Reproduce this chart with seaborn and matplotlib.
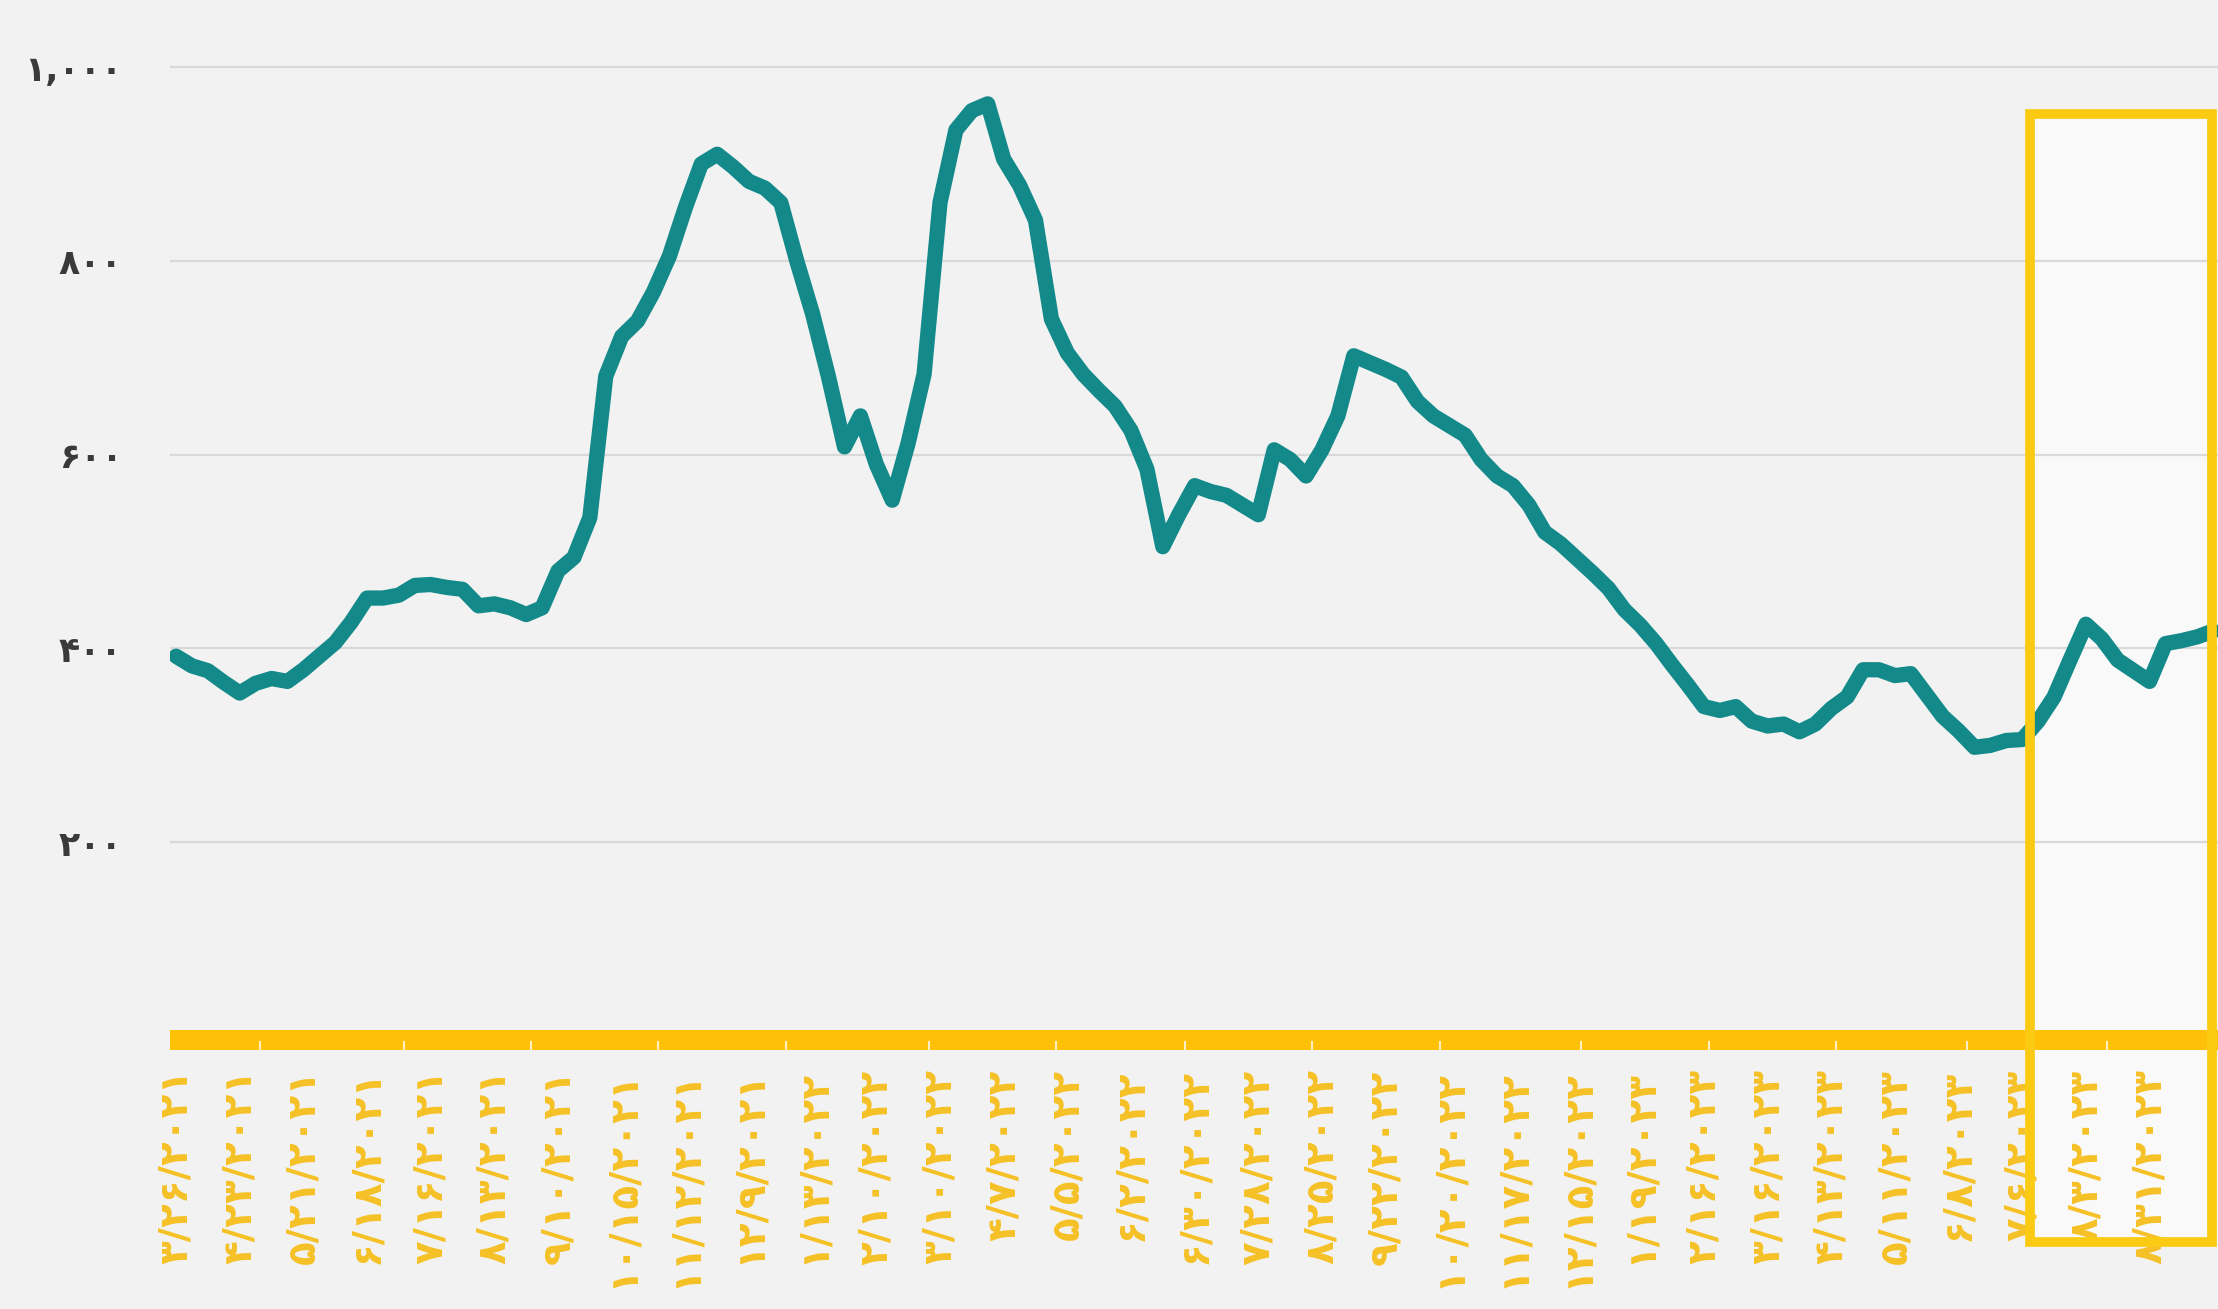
import matplotlib
matplotlib.use("Agg")
import matplotlib.pyplot as plt
import seaborn as sns
import numpy as np
import pandas as pd
from matplotlib.patches import Rectangle

# ---------------- data ----------------
values = [
    392, 382, 377, 365, 354, 364, 369, 366, 378, 392,
    406, 427, 452, 452, 455, 465, 466, 463, 461, 444,
    446, 442, 435, 442, 480, 494, 535, 681, 722, 738,
    768, 805, 855, 900, 910, 897, 882, 875, 860, 800,
    745, 680, 608, 640, 590, 553, 612, 683, 860, 935,
    955, 962, 905, 878, 842, 740, 705, 683, 666, 650,
    625, 585, 505, 538, 568, 562, 558, 548, 538, 605,
    595, 578, 605, 640, 702, 695, 688, 680, 655, 640,
    630, 620, 595, 578, 568, 548, 520, 508, 493, 478,
    462, 440, 424, 405, 383, 362, 340, 336, 340, 325,
    320, 322, 314, 322, 338, 350, 378, 378, 372, 374,
    352, 330, 315, 298, 300, 305, 306, 325, 350, 388,
    425, 410, 388, 377, 366, 405, 408, 412, 418,
]

x_labels = [
    "۳/۲۶/۲۰۲۱", "۴/۲۳/۲۰۲۱", "۵/۲۱/۲۰۲۱", "۶/۱۸/۲۰۲۱", "۷/۱۶/۲۰۲۱",
    "۸/۱۳/۲۰۲۱", "۹/۱۰/۲۰۲۱", "۱۰/۱۵/۲۰۲۱", "۱۱/۱۲/۲۰۲۱", "۱۲/۹/۲۰۲۱",
    "۱/۱۳/۲۰۲۲", "۲/۱۰/۲۰۲۲", "۳/۱۰/۲۰۲۲", "۴/۷/۲۰۲۲", "۵/۵/۲۰۲۲",
    "۶/۲/۲۰۲۲", "۶/۳۰/۲۰۲۲", "۷/۲۸/۲۰۲۲", "۸/۲۵/۲۰۲۲", "۹/۲۲/۲۰۲۲",
    "۱۰/۲۰/۲۰۲۲", "۱۱/۱۷/۲۰۲۲", "۱۲/۱۵/۲۰۲۲", "۱/۱۹/۲۰۲۳", "۲/۱۶/۲۰۲۳",
    "۳/۱۶/۲۰۲۳", "۴/۱۳/۲۰۲۳", "۵/۱۱/۲۰۲۳", "۶/۸/۲۰۲۳", "۷/۶/۲۰۲۳",
    "۸/۳/۲۰۲۳", "۸/۳۱/۲۰۲۳",
]
label_step = 4

y_ticks = [200, 400, 600, 800, 1000]
y_tick_labels = ["۲۰۰", "۴۰۰", "۶۰۰", "۸۰۰", "۱,۰۰۰"]

# minor white marks on the yellow axis bar (category positions)
bar_marks = [5.3, 14.3, 22.3, 30.3, 38.3, 47.3, 55.3, 63.4, 71.4, 79.4,
             88.3, 96.3, 104.3, 112.5, 121.3]

# highlighted region (category index range)
highlight_start = 116.5
highlight_end = 127.95

# ---------------- style ----------------
BG = "#F2F2F2"
TEAL = "#13898A"
GOLD_BAR = "#FFC107"
GOLD_TXT = "#F6C126"
GOLD_BOX = "#FACB12"
GRID = "#D9D9D9"

sns.set_theme(style="white")
plt.rcParams["font.family"] = ["DejaVu Sans"]

fig = plt.figure(figsize=(22.18, 13.09), dpi=100, facecolor=BG)
ax = fig.add_axes([0.0765, 0.1937, 0.9235, 0.7773])
ax.set_facecolor(BG)

df = pd.DataFrame({"idx": np.arange(len(values)), "value": values})

# lighter fill of highlighted window (behind everything)
ax.add_patch(Rectangle((highlight_start, -212), highlight_end - highlight_start, 1164,
                       facecolor="#F9F9F9", edgecolor="none", zorder=0.2, clip_on=False))

sns.lineplot(data=df, x="idx", y="value", ax=ax, color=TEAL, lw=11,
             solid_joinstyle="round", solid_capstyle="round", zorder=3)

ax.set_xlim(-0.4, 128.3)
ax.set_ylim(-20, 1030)

# grid
ax.set_axisbelow(True)
ax.yaxis.grid(True, color=GRID, linewidth=1.6)
ax.xaxis.grid(False)
for s in ax.spines.values():
    s.set_visible(False)

# yellow axis bar
ax.axhspan(-14, 6, color=GOLD_BAR, zorder=2.5, linewidth=0)
ax.vlines(bar_marks, -14, -5, colors="white", linewidth=1.5, alpha=0.75, zorder=2.6)

# ticks
ax.set_yticks(y_ticks)
ax.set_yticklabels(y_tick_labels, fontsize=25, fontweight="bold", color="#3A3A3A")
ax.tick_params(axis="y", length=0, pad=34)

xt = list(range(0, label_step * len(x_labels), label_step))
ax.set_xticks(xt)
ax.set_xticklabels(x_labels, rotation=90, fontsize=28, color=GOLD_TXT, fontweight="bold")
ax.tick_params(axis="x", length=0, pad=10)
ax.set_xlabel("")
ax.set_ylabel("")

# highlight border
ax.add_patch(Rectangle((highlight_start, -212), highlight_end - highlight_start, 1164,
                       facecolor="none", edgecolor=GOLD_BOX, linewidth=7, zorder=6,
                       clip_on=False))

fig.savefig("out.png", dpi=100, facecolor=BG)
